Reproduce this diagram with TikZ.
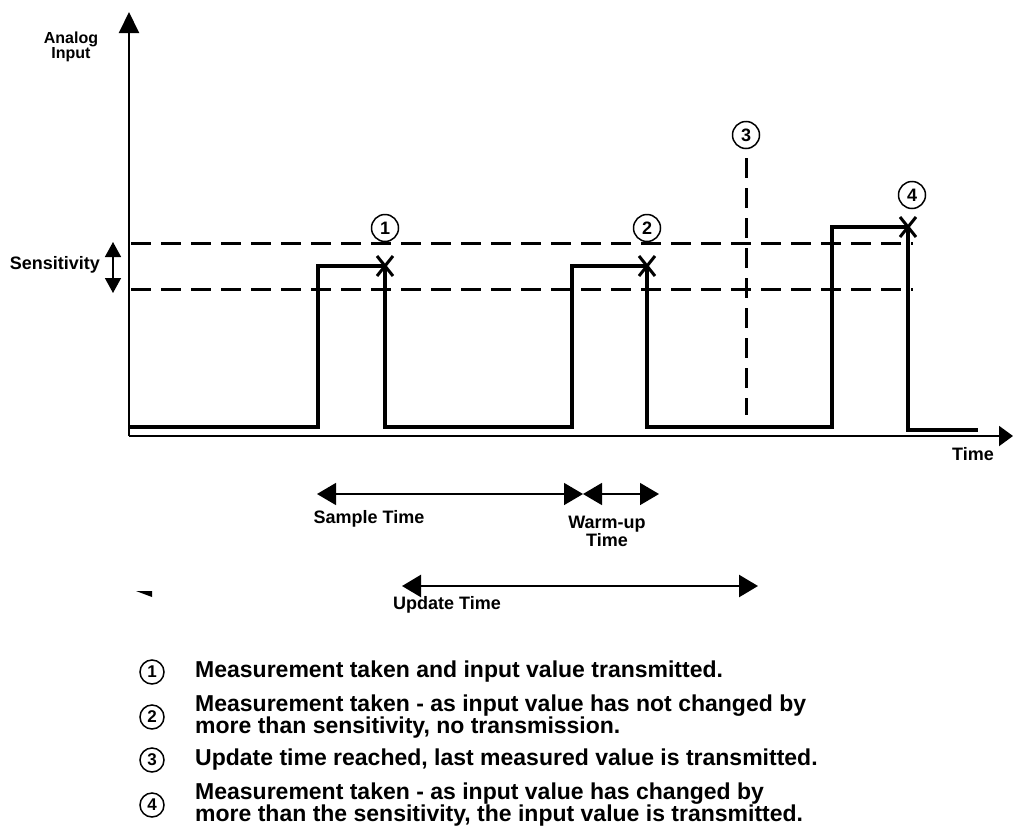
\documentclass[tikz,border=0pt]{standalone}
\usepackage{fontspec}
\setmainfont{Liberation Sans}
\usetikzlibrary{arrows.meta}

\tikzset{
  lbl/.style={font=\fontsize{18pt}{16pt}\selectfont\bfseries, inner sep=0pt, align=center},
  legend/.style={font=\fontsize{23pt}{22pt}\selectfont\bfseries, inner sep=0pt, anchor=west, align=left},
  num/.style={draw, circle, line width=1.5pt, minimum size=27pt, inner sep=0pt, font=\fontsize{18pt}{18pt}\selectfont\bfseries},
  legnum/.style={num, minimum size=24pt, font=\fontsize{17pt}{17pt}\selectfont\bfseries},
  signal/.style={line width=4pt, line join=miter},
  level/.style={line width=3pt, dash pattern=on 20pt off 10pt},
  span/.style={line width=1.5pt, {Triangle[length=19pt,width=22pt]}-{Triangle[length=19pt,width=22pt]}},
}

\newcommand\crossmark[1]{\draw[line width=3pt] ([shift={(-8,-10)}]#1) -- ([shift={(8,10)}]#1) ([shift={(-8,10)}]#1) -- ([shift={(8,-10)}]#1);}

\begin{document}
\begin{tikzpicture}[x=1pt, y=-1pt]
\useasboundingbox [fill=white] (0, 0) rectangle (1014, 838);

\coordinate (o) at (129, 436);
\coordinate (ytop) at (129, 12);
\coordinate (xend) at (1013, 436);
\draw [line width=2pt, -{Triangle[length=21pt,width=20pt]}] (o) -- (ytop);
\draw [line width=2pt, -{Triangle[length=14pt,width=20pt]}] (o) -- (xend);
\node (ain) at (71, 47) [lbl, font=\fontsize{16pt}{15pt}\selectfont\bfseries] {Analog\\Input};
\node (time) at (973, 454) [lbl] {Time};

\coordinate (d1a) at (131, 243);
\coordinate (d1b) at (913, 243);
\coordinate (d2a) at (131, 289);
\coordinate (d2b) at (913, 289);
\draw [level] (d1a) -- (d1b);
\draw [level] (d2a) -- (d2b);
\coordinate (sa) at (113, 242);
\coordinate (sb) at (113, 293);
\draw [line width=1.5pt, {Triangle[length=15pt,width=16pt]}-{Triangle[length=15pt,width=16pt]}] (sa) -- (sb);
\node (sens) at (100, 265) [lbl, anchor=east] {Sensitivity};

\foreach \n/\x/\y in {0/130/427, 1/318/427, 2/318/266, 3/385/266, 4/385/427, 5/572/427, 6/572/266,
  7/647/266, 8/647/427, 9/832/427, 10/832/227, 11/908/227, 12/908/430, 13/978/430}
  \coordinate (s\n) at (\x, \y);
\draw [signal] (s0) -- (s1) -- (s2) -- (s3) -- (s4) -- (s5) -- (s6) -- (s7) -- (s8) -- (s9) -- (s10) -- (s11) -- (s12) -- (s13);
\crossmark{s3}
\crossmark{s7}
\crossmark{s11}

\node (m1) at (385, 228) [num] {1};
\node (m2) at (647, 228) [num] {2};
\node (m3) at (746, 135) [num] {3};
\node (m4) at (912, 195) [num] {4};
\coordinate (v3) at (746, 415);
\draw [level] ([yshift=-9pt]m3.south) -- (v3);

\coordinate (sm1) at (317, 494);
\coordinate (sm2) at (583, 494);
\coordinate (wu2) at (659, 494);
\draw [span] (sm1) -- (sm2);
\draw [span] (sm2) -- (wu2);
\node (sample) at (369, 519) [lbl] {Sample Time};
\node (warm) at (607, 531) [lbl] {Warm-up\\Time};

\coordinate (up1) at (402, 586);
\coordinate (up2) at (758, 586);
\draw [span, line width=2.5pt] (up1) -- (up2);
\node (update) at (447, 605) [lbl] {Update Time};
\fill (136, 591) -- (152, 591) -- (152, 597) -- cycle;

\node (l1) at (152, 672) [legnum] {1};
\node (l2) at (152, 717) [legnum] {2};
\node (l3) at (152, 760) [legnum] {3};
\node (l4) at (152, 805) [legnum] {4};
\node (t1) at (195, 672) [legend] {Measurement taken and input value transmitted.};
\node (t2) at (195, 717) [legend] {Measurement taken - as input value has not changed by\\more than sensitivity, no transmission.};
\node (t3) at (195, 760) [legend] {Update time reached, last measured value is transmitted.};
\node (t4) at (195, 805) [legend] {Measurement taken - as input value has changed by\\more than the sensitivity, the input value is transmitted.};
\end{tikzpicture}
\end{document}
